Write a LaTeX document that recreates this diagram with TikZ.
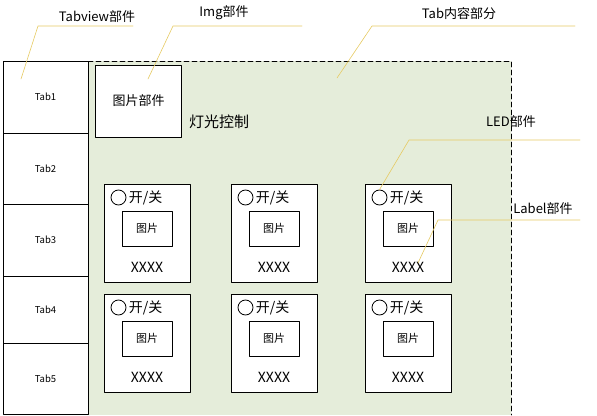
\documentclass[tikz,border=0pt]{standalone}
\usepackage{fontspec}
\setmainfont{Noto Sans CJK SC}
\usetikzlibrary{positioning}
\definecolor{panel}{RGB}{229,237,218}
\definecolor{leader}{RGB}{230,202,98}
\tikzset{
 tabbox/.style={draw,fill=white,minimum width=85pt,inner sep=0pt,outer sep=0pt,
   font=\fontsize{9.5}{10}\selectfont},
 card/.style={draw,fill=white,minimum width=86pt,minimum height=98pt,inner sep=0pt},
 picbox/.style={draw,fill=white,minimum width=50pt,minimum height=35pt,inner sep=0pt,
   font=\fontsize{11}{12}\selectfont},
 lamp/.style={draw,circle,minimum size=15pt,inner sep=0pt},
 note/.style={inner sep=1pt,font=\fontsize{13}{14}\selectfont},
 leaderline/.style={draw=leader,line width=.6pt},
}
\begin{document}
\begin{tikzpicture}[x=1pt,y=-1pt,line width=.8pt,line cap=round,line join=round,
 font=\fontsize{13}{14}\selectfont]
\useasboundingbox (0,0) rectangle (597,415);
% tab content area
\fill[panel] (88,61) rectangle (511,415);
\draw[dash pattern=on 5pt off 3pt] (88,61)--(511,61)--(511,415);
% tab column
\node[tabbox,minimum height=72pt] (tab1) at (45.5,97) {Tab1};
\foreach \i/\j/\h in {2/1/71,3/2/72,4/3/67,5/4/71}
  \node[tabbox,minimum height=\h pt,below=0pt of tab\j] (tab\i) {Tab\i};
% image part
\node[draw,fill=white,minimum width=86pt,minimum height=72pt,inner sep=0pt] (img) at (138.5,101) {图片部件};
\node[font=\fontsize{15}{16}\selectfont] (light) at (219,122) {灯光控制};
% lamp cards
\foreach \r/\y in {1/184,2/294}
 \foreach \c/\x in {1/104,2/231,3/365} {
  \begin{scope}[shift={(\x,\y)}]
    \node[card] (card\r\c) at (43,49) {};
    \node[lamp] (lamp\r\c) at (14.5,13.5) {};
    \node[inner sep=0pt,right=2pt of lamp\r\c,font=\fontsize{14}{15}\selectfont] (sw\r\c) {开/关};
    \node[picbox] (pic\r\c) at (43,44.5) {图片};
    \node[inner sep=0pt,font=\fontsize{14}{15}\selectfont] (val\r\c) at (43,83) {XXXX};
  \end{scope}
 }
% leader notes
\node[note] (tabnote) at (97,17) {Tabview部件};
\node[note] (imgnote) at (224,13) {Img部件};
\node[note] (boxnote) at (459,14) {Tab内容部分};
\node[note] (lednote) at (511,122) {LED部件};
\node[note] (lblnote) at (543,209) {Label部件};
\coordinate (tabbend) at (38,26);  \coordinate (tabend) at (133,26);
\coordinate (tabtip) at (21,79);
\coordinate (imgbend) at (173,26); \coordinate (imgend) at (302,26);
\coordinate (imgtip) at (148,79);
\coordinate (boxbend) at (372,26); \coordinate (boxend) at (575,26);
\coordinate (boxtip) at (337,78);
\coordinate (ledbend) at (409,140); \coordinate (ledend) at (580,140);
\coordinate (lblbend) at (438,220); \coordinate (lblend) at (580,220);
\coordinate (lbltip) at (418,263);
\draw[leaderline] (tabtip)--(tabbend)--(tabend);
\draw[leaderline] (imgtip)--(imgbend)--(imgend);
\draw[leaderline] (boxtip)--(boxbend)--(boxend);
\draw[leaderline] (lamp13.north)--(ledbend)--(ledend);
\draw[leaderline] (lbltip)--(lblbend)--(lblend);
\end{tikzpicture}
\end{document}
